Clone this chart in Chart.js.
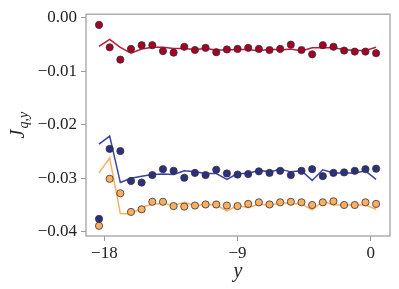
<!DOCTYPE html>
<html>
<head>
<meta charset="utf-8">
<script src="https://cdn.jsdelivr.net/npm/chart.js@4"></script>
<style>
  html, body { margin: 0; padding: 0; background: #fff; }
  #wrap { width: 399px; height: 289px; }
</style>
</head>
<body>
<div id="wrap"><canvas id="chart-flux" width="399" height="289"></canvas></div>
<script>
// positions along y
const yPos = [-18.36, -17.64, -16.92, -16.20, -15.48, -14.76, -14.04, -13.32, -12.60,
    -11.88, -11.16, -10.44, -9.72, -9.00, -8.28, -7.56, -6.84, -6.12,
    -5.40, -4.68, -3.96, -3.24, -2.52, -1.80, -1.08, -0.36, 0.36];

// measured points (dots)
const redPts = [-0.0013, -0.0055, -0.0078, -0.0058, -0.0051, -0.0051, -0.0062, -0.0065, -0.0054,
    -0.0060, -0.0056, -0.0064, -0.0059, -0.0058, -0.0056, -0.0058, -0.0060, -0.0058,
    -0.0050, -0.0060, -0.0068, -0.0051, -0.0054, -0.0061, -0.0063, -0.0063, -0.0066];
const bluePts = [-0.0376, -0.0245, -0.0249, -0.0305, -0.0308, -0.0294, -0.0283, -0.0286, -0.0299,
    -0.0290, -0.0294, -0.0284, -0.0291, -0.0293, -0.0292, -0.0287, -0.0290, -0.0286,
    -0.0294, -0.0286, -0.0283, -0.0296, -0.0290, -0.0289, -0.0286, -0.0283, -0.0282];
const orangePts = [-0.0389, -0.0301, -0.0328, -0.0363, -0.0358, -0.0344, -0.0344, -0.0352, -0.0353,
    -0.0351, -0.0349, -0.0349, -0.0351, -0.0352, -0.0348, -0.0345, -0.0349, -0.0345,
    -0.0344, -0.0345, -0.0350, -0.0345, -0.0343, -0.0350, -0.0350, -0.0345, -0.0348];

// model curves (lines)
const redLine = [-0.0053, -0.0040, -0.0055, -0.0066, -0.0058, -0.0055, -0.0055, -0.0057, -0.0057,
    -0.0059, -0.0057, -0.0060, -0.0060, -0.0059, -0.0059, -0.0062, -0.0058, -0.0060,
    -0.0058, -0.0062, -0.0056, -0.0056, -0.0056, -0.0059, -0.0061, -0.0061, -0.0055];
const blueLine = [-0.0236, -0.0221, -0.0308, -0.0300, -0.0296, -0.0293, -0.0292, -0.0293, -0.0286,
    -0.0288, -0.0291, -0.0291, -0.0302, -0.0291, -0.0291, -0.0285, -0.0288, -0.0283,
    -0.0288, -0.0286, -0.0304, -0.0284, -0.0290, -0.0290, -0.0290, -0.0286, -0.0302];
const orangeLine = [-0.0290, -0.0262, -0.0366, -0.0367, -0.0355, -0.0348, -0.0347, -0.0351, -0.0345,
    -0.0351, -0.0349, -0.0350, -0.0361, -0.0351, -0.0355, -0.0348, -0.0351, -0.0346,
    -0.0347, -0.0348, -0.0359, -0.0343, -0.0350, -0.0350, -0.0350, -0.0350, -0.0358];

const xTicks = [-18, -9, 0];
const yTicks = [-0.04, -0.03, -0.02, -0.01, 0.00];

const serif = '"Liberation Serif", "DejaVu Serif", serif';

function pairs(vals) {
    return yPos.map((x, i) => ({x: x, y: vals[i]}));
}

function lineSet(vals, color) {
    return {
        type: 'line',
        data: pairs(vals),
        borderColor: color,
        borderWidth: 1.5,
        pointRadius: 0,
        fill: false,
        tension: 0,
        order: 2
    };
}

function dotSet(vals, color) {
    return {
        type: 'scatter',
        data: pairs(vals),
        backgroundColor: color,
        borderColor: '#333333',
        borderWidth: 0.8,
        pointRadius: 3.6,
        showLine: false,
        order: 1
    };
}

// frame + axis titles
const framePlugin = {
    id: 'frame',
    afterDraw(chart) {
        const ctx = chart.ctx;
        const a = chart.chartArea;
        ctx.save();
        ctx.strokeStyle = '#9a9a9a';
        ctx.lineWidth = 1.2;
        ctx.strokeRect(a.left, a.top, a.right - a.left, a.bottom - a.top);

        // x title
        ctx.fillStyle = '#222';
        ctx.font = 'italic 20px ' + serif;
        ctx.textAlign = 'center';
        ctx.textBaseline = 'middle';
        ctx.fillText('y', (a.left + a.right) / 2, 272);

        // y title J_{q,y}
        ctx.translate(18, (a.top + a.bottom) / 2);
        ctx.rotate(-Math.PI / 2);
        ctx.textAlign = 'left';
        ctx.textBaseline = 'alphabetic';
        const big = 'italic 20px ' + serif;
        const small = 'italic 14px ' + serif;
        ctx.font = big;
        const wJ = ctx.measureText('J').width;
        ctx.font = small;
        const wS = ctx.measureText('q,y').width;
        const x0 = -(wJ + 1 + wS) / 2;
        ctx.font = big;
        ctx.fillText('J', x0, 6);
        ctx.font = small;
        ctx.fillText('q,y', x0 + wJ + 1, 10);
        ctx.restore();
    }
};

const configFlux = {
    data: {
        datasets: [
            lineSet(redLine, '#c0163c'),
            lineSet(blueLine, '#3c42a6'),
            lineSet(orangeLine, '#fdae61'),
            dotSet(redPts, '#a50026'),
            dotSet(bluePts, '#2c307e'),
            dotSet(orangePts, '#fdae61')
        ]
    },
    options: {
        responsive: false,
        animation: false,
        devicePixelRatio: 1,
        layout: { padding: { top: 9, right: 9, left: 0, bottom: 0 } },
        plugins: {
            legend: { display: false },
            tooltip: { enabled: false }
        },
        scales: {
            x: {
                type: 'linear',
                min: -19.24,
                max: 1.3,
                afterBuildTicks: (s) => { s.ticks = xTicks.map(v => ({value: v})); },
                afterFit: (s) => { s.height = 53; },
                border: { display: false },
                grid: { drawOnChartArea: false, color: '#9a9a9a', tickLength: 5, lineWidth: 1 },
                ticks: {
                    color: '#222',
                    font: { family: serif, size: 17 },
                    padding: 2,
                    maxRotation: 0,
                    callback: (v) => (v < 0 ? '\u2212' : '') + Math.abs(v)
                }
            },
            y: {
                type: 'linear',
                min: -0.0408,
                max: 0.0007,
                afterBuildTicks: (s) => { s.ticks = yTicks.map(v => ({value: v})); },
                afterFit: (s) => { s.width = 86; },
                border: { display: false },
                grid: { drawOnChartArea: false, color: '#9a9a9a', tickLength: 5, lineWidth: 1 },
                ticks: {
                    color: '#222',
                    font: { family: serif, size: 17 },
                    padding: 4,
                    callback: (v) => (v < 0 ? '\u2212' : '') + Math.abs(v).toFixed(2)
                }
            }
        }
    },
    plugins: [framePlugin]
};

const chartFlux = new Chart(
    document.getElementById('chart-flux'),
    configFlux
);
</script>
</body>
</html>
